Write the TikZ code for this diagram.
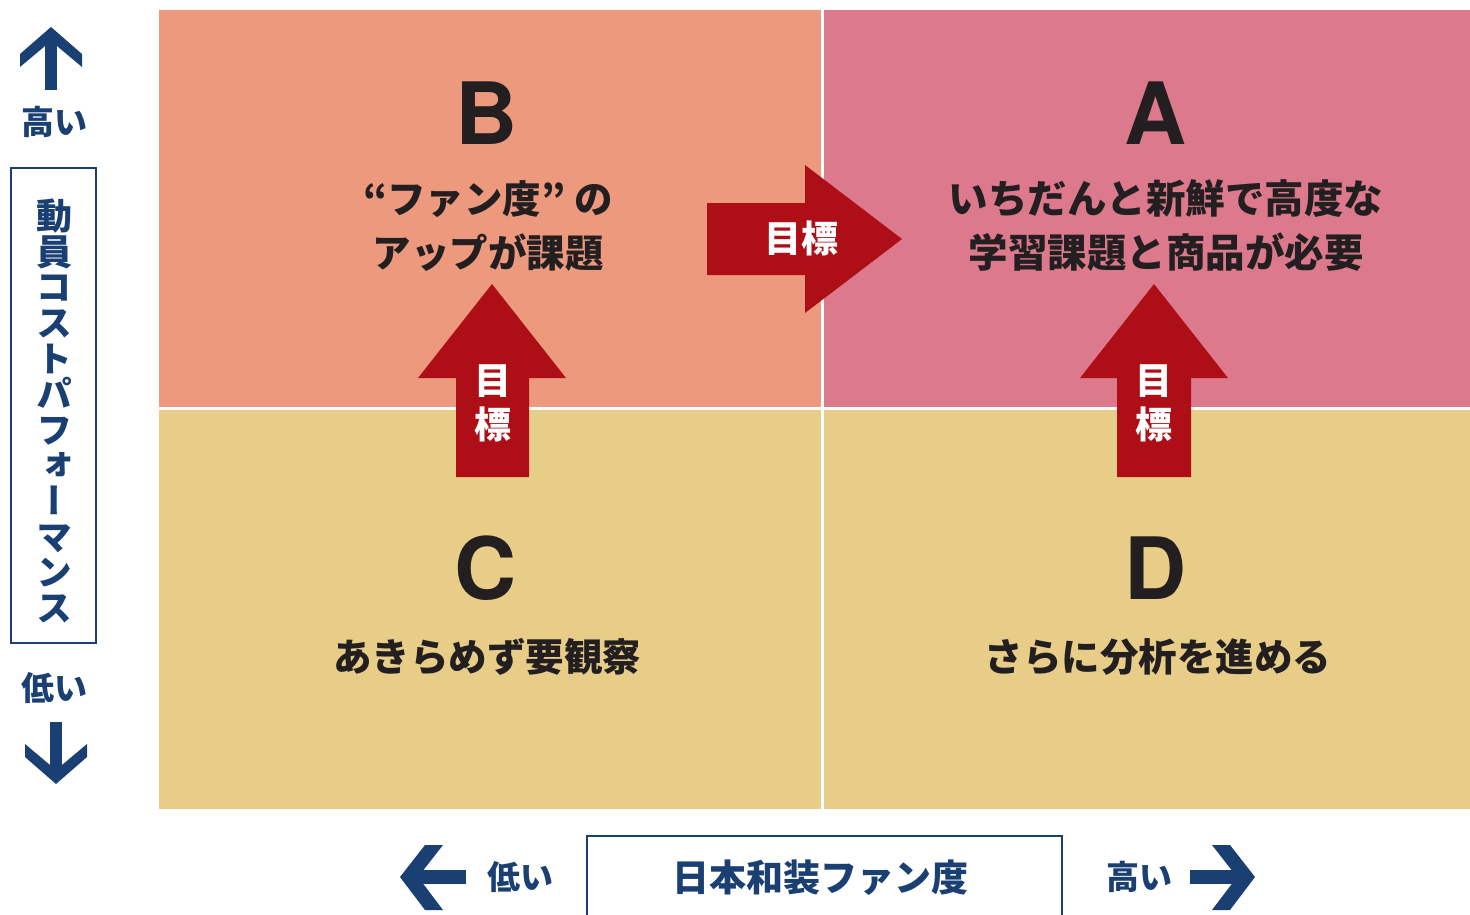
\documentclass[tikz,border=0pt]{standalone}
\usepackage{fontspec}
\setmainfont{TeX Gyre Heros}
\newfontfamily\jp{Noto Sans CJK JP}
\newfontfamily\jpv{Noto Sans CJK JP}[RawFeature=+vert]
\definecolor{qB}{HTML}{EC997E}
\definecolor{qA}{HTML}{DD798C}
\definecolor{qCD}{HTML}{E8CD88}
\definecolor{tred}{HTML}{AE0F16}
\definecolor{navy}{HTML}{1A3F72}
\definecolor{ink}{HTML}{231F20}
\tikzset{
  letter/.style={text=ink,font=\bfseries\fontsize{86}{86}\selectfont},
  qtext/.style={text=ink,align=center,font=\jp\bfseries\fontsize{38.5}{54}\selectfont},
  goal/.style={text=white,align=center,font=\jp\bfseries\fontsize{37}{44}\selectfont},
  axis/.style={text=navy,font=\jp\bfseries\fontsize{33}{33}\selectfont},
  axisbox/.style={draw=navy,line width=2.5pt},
}
\begin{document}
\begin{tikzpicture}[x=1pt,y=-1pt]
\useasboundingbox (0,0) rectangle (1470,914);
% quadrants
\fill[qB] (159,10) rectangle (821,407);
\fill[qA] (824,10) rectangle (1470,407);
\fill[qCD] (159,410) rectangle (821,809);
\fill[qCD] (824,410) rectangle (1470,809);
% letters
\node[letter] (B) at (487,113) {B};
\node[letter] (A) at (1156,113) {A};
\node[letter] (C) at (486,568) {C};
\node[letter] (D) at (1156,568) {D};
% quadrant texts
\node[qtext] (tB) at (488,226) {“ファン度” の\\アップが課題};
\node[qtext,font=\jp\bfseries\fontsize{39.5}{54}\selectfont] (tA) at (1166,226) {いちだんと新鮮で高度な\\学習課題と商品が必要};
\node[qtext] (tC) at (487,657) {あきらめず要観察};
\node[qtext] (tD) at (1158,657) {さらに分析を進める};
% red goal arrows
\fill[tred] (707,203) -- (805,203) -- (805,165) -- (902,239) -- (805,313) -- (805,275) -- (707,275) -- cycle;
\node[goal] (g1) at (801,238) {目標};
\fill[tred] (456,477) -- (456,378) -- (418,378) -- (492,284) -- (566,378) -- (529,378) -- (529,477) -- cycle;
\node[goal] (g2) at (493,403) {目\\標};
\fill[tred] (1117,477) -- (1117,378) -- (1080,378) -- (1154,284) -- (1228,378) -- (1191,378) -- (1191,477) -- cycle;
\node[goal] (g3) at (1154,403) {目\\標};
% left axis
\fill[navy] (51,27) -- (82,54) -- (82,67) -- (51,41) -- (20,67) -- (20,54) -- cycle;
\fill[navy] (45,36) rectangle (57,90);
\node[axis] (hiL) at (54,122) {高い};
\draw[axisbox] (11,168) rectangle (96,643);
\node[text=navy,align=center,font=\jpv\bfseries\fontsize{36}{35.6}\selectfont] (yl) at (54,411)
  {動\\員\\コ\\ス\\ト\\パ\\フ\\ォ\\ー\\マ\\ン\\ス};
\node[axis] (loL) at (54,688) {低い};
\fill[navy] (50,722) rectangle (62,774);
\fill[navy] (56,784) -- (87,757) -- (87,744) -- (56,770) -- (25,744) -- (25,757) -- cycle;
% bottom axis
\fill[navy] (400,877) -- (425,845) -- (443,845) -- (418,877) -- (443,910) -- (425,910) -- cycle;
\fill[navy] (412,870) rectangle (466,884);
\node[axis] (loB) at (520,877) {低い};
\draw[axisbox] (587,930) -- (587,836) -- (1062,836) -- (1062,930);
\node[axis,font=\jp\bfseries\fontsize{37}{37}\selectfont] (xl) at (820,878) {日本和装ファン度};
\node[axis] (hiB) at (1139,877) {高い};
\fill[navy] (1190,870) rectangle (1243,884);
\fill[navy] (1255,877) -- (1230,845) -- (1212,845) -- (1237,877) -- (1212,910) -- (1230,910) -- cycle;
\end{tikzpicture}
\end{document}
